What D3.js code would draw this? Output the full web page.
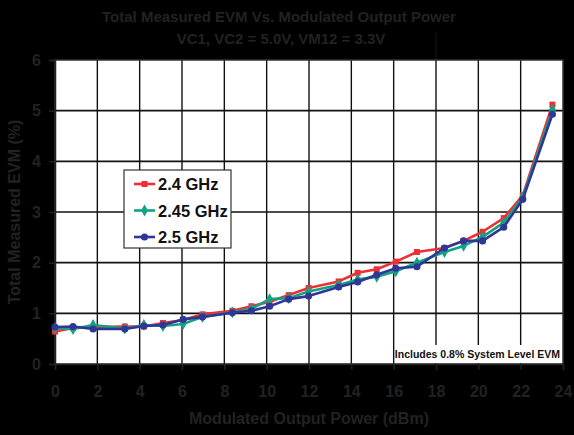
<!DOCTYPE html>
<html>
<head>
<meta charset="utf-8">
<script src="https://cdn.jsdelivr.net/npm/d3@7"></script>
<style>
  body { margin: 0; background: #000; }
  svg { display: block; }
</style>
</head>
<body>
<div class="chart-container"></div>
<script>
// output power (dBm) at each measured point
const power = [0, 0.85, 1.8, 3.3, 4.2, 5.1, 6.05, 6.97, 8.38, 9.28, 10.14, 11.04, 11.98, 13.4, 14.3, 15.2, 16.1, 17.1, 18.4, 19.3, 20.2, 21.2, 22.1, 23.5];
const evm24 = [0.64, 0.71, 0.73, 0.74, 0.74, 0.81, 0.87, 0.98, 1.05, 1.14, 1.23, 1.36, 1.50, 1.63, 1.80, 1.87, 2.02, 2.21, 2.29, 2.43, 2.61, 2.88, 3.33, 5.12];
const evm245 = [0.71, 0.69, 0.77, 0.70, 0.77, 0.75, 0.79, 0.93, 1.02, 1.09, 1.28, 1.30, 1.43, 1.56, 1.67, 1.72, 1.83, 2.00, 2.21, 2.33, 2.51, 2.79, 3.29, 5.02];
const evm25 = [0.73, 0.74, 0.69, 0.69, 0.75, 0.77, 0.88, 0.93, 1.01, 1.05, 1.14, 1.28, 1.34, 1.52, 1.62, 1.76, 1.89, 1.92, 2.29, 2.43, 2.43, 2.70, 3.25, 4.93];
const seriesNames = ["2.4 GHz", "2.45 GHz", "2.5 GHz"];
const xTicks = [0, 2, 4, 6, 8, 10, 12, 14, 16, 18, 20, 22, 24];
const yTicks = [0, 1, 2, 3, 4, 5, 6];

const width = 574, height = 435;
const margin = {top: 60, right: 10, bottom: 71, left: 55};
const textColor = "#222";
const font = "'Liberation Sans', Arial, sans-serif";

const svg = d3.select(".chart-container")
  .append("svg")
  .attr("width", width)
  .attr("height", height)
  .style("background", "#000");

const x = d3.scaleLinear().domain([0, 24]).range([margin.left, width - margin.right - 1]);
const y = d3.scaleLinear().domain([0, 6]).range([height - margin.bottom, margin.top]);

// plot area
svg.append("rect")
  .attr("x", x(0)).attr("y", y(6))
  .attr("width", x(24) - x(0)).attr("height", y(0) - y(6))
  .attr("fill", "#fff");

// grid
svg.append("g")
  .selectAll("line")
  .data(yTicks.slice(1, -1))
  .enter().append("line")
  .attr("x1", x(0)).attr("x2", x(24))
  .attr("y1", d => y(d)).attr("y2", d => y(d))
  .attr("stroke", "#111").attr("stroke-width", 1.6);

svg.append("g")
  .selectAll("line")
  .data(xTicks.slice(1, -1))
  .enter().append("line")
  .attr("x1", d => x(d)).attr("x2", d => x(d))
  .attr("y1", d => d === 18 ? 33 : y(6)).attr("y2", y(0))
  .attr("stroke", "#111").attr("stroke-width", 1.4);

// note box covers the grid in the bottom right corner
svg.append("rect")
  .attr("x", 395).attr("y", y(0) - 19)
  .attr("width", x(24) - 395).attr("height", 18)
  .attr("fill", "#fff");

svg.append("text")
  .attr("x", x(24) - 3)
  .attr("y", y(0) - 6)
  .attr("text-anchor", "end")
  .attr("font-family", font)
  .attr("font-weight", "bold")
  .attr("font-size", "10.5px")
  .attr("fill", "#111")
  .text("Includes 0.8% System Level EVM");

// frame
svg.append("rect")
  .attr("x", x(0)).attr("y", y(6))
  .attr("width", x(24) - x(0)).attr("height", y(0) - y(6))
  .attr("fill", "none")
  .attr("stroke", "#333").attr("stroke-width", 1.5);

// axes
const xAxis = svg.append("g")
  .attr("transform", `translate(0,${y(0)})`)
  .call(d3.axisBottom(x).tickValues(xTicks).tickFormat(d3.format("d")).tickSize(6).tickPadding(16));
const yAxis = svg.append("g")
  .attr("transform", `translate(${x(0)},0)`)
  .call(d3.axisLeft(y).tickValues(yTicks).tickFormat(d3.format("d")).tickSize(6).tickPadding(8));

[xAxis, yAxis].forEach(a => {
  a.select(".domain").attr("stroke", textColor).attr("stroke-width", 1.5);
  a.selectAll(".tick line").attr("stroke", textColor).attr("stroke-width", 1.5);
  a.selectAll(".tick text")
    .attr("fill", textColor)
    .attr("font-family", font)
    .attr("font-weight", "bold")
    .attr("font-size", "16px");
});

// titles
const title = svg.append("text")
  .attr("text-anchor", "middle")
  .attr("font-family", font)
  .attr("font-weight", "bold")
  .attr("font-size", "15px")
  .attr("fill", textColor);
title.append("tspan").attr("x", 279).attr("y", 22).text("Total Measured EVM Vs. Modulated Output Power");
title.append("tspan").attr("x", 281).attr("y", 44).text("VC1, VC2 = 5.0V, VM12 = 3.3V");

svg.append("text")
  .attr("x", (x(0) + x(24)) / 2)
  .attr("y", 424)
  .attr("text-anchor", "middle")
  .attr("font-family", font)
  .attr("font-weight", "bold")
  .attr("font-size", "16px")
  .attr("fill", textColor)
  .text("Modulated Output Power (dBm)");

svg.append("text")
  .attr("transform", `translate(20,${(y(0) + y(6)) / 2}) rotate(-90)`)
  .attr("text-anchor", "middle")
  .attr("font-family", font)
  .attr("font-weight", "bold")
  .attr("font-size", "16px")
  .attr("fill", textColor)
  .text("Total Measured EVM (%)");

// series
const series = [
  {name: seriesNames[0], values: evm24, color: "#ee3035", symbol: d3.symbolSquare, size: 36},
  {name: seriesNames[1], values: evm245, color: "#12a283", symbol: d3.symbolDiamond, size: 40},
  {name: seriesNames[2], values: evm25, color: "#2e3796", symbol: d3.symbolCircle, size: 40}
];

const line = d3.line()
  .x((d, i) => x(power[i]))
  .y(d => y(d));

const sg = svg.append("g")
  .selectAll("g")
  .data(series)
  .enter().append("g");

sg.append("path")
  .attr("d", d => line(d.values))
  .attr("fill", "none")
  .attr("stroke", d => d.color)
  .attr("stroke-width", 2.6)
  .attr("stroke-linejoin", "round");

sg.each(function (s) {
  d3.select(this).selectAll(".pt")
    .data(s.values)
    .enter().append("path")
    .attr("class", "pt")
    .attr("transform", (d, i) => `translate(${x(power[i])},${y(d)})`)
    .attr("d", d3.symbol().type(s.symbol).size(s.size))
    .attr("fill", s.color);
});

// legend
const legend = svg.append("g").attr("transform", "translate(124,170)");
legend.append("rect")
  .attr("width", 107).attr("height", 78)
  .attr("fill", "#fff")
  .attr("stroke", "#333").attr("stroke-width", 1.2);

const item = legend.selectAll(".item")
  .data(series)
  .enter().append("g")
  .attr("class", "item")
  .attr("transform", (d, i) => `translate(0,${14 + i * 26.5})`);

item.append("line")
  .attr("x1", 10).attr("x2", 31)
  .attr("stroke", d => d.color).attr("stroke-width", 2.6);
item.append("path")
  .attr("transform", "translate(20.5,0)")
  .attr("d", d => d3.symbol().type(d.symbol).size(d.size)())
  .attr("fill", d => d.color);
item.append("text")
  .attr("x", 34).attr("y", 6)
  .attr("font-family", font)
  .attr("font-weight", "bold")
  .attr("font-size", "16.5px")
  .attr("fill", "#111")
  .text(d => d.name);
</script>
</body>
</html>
